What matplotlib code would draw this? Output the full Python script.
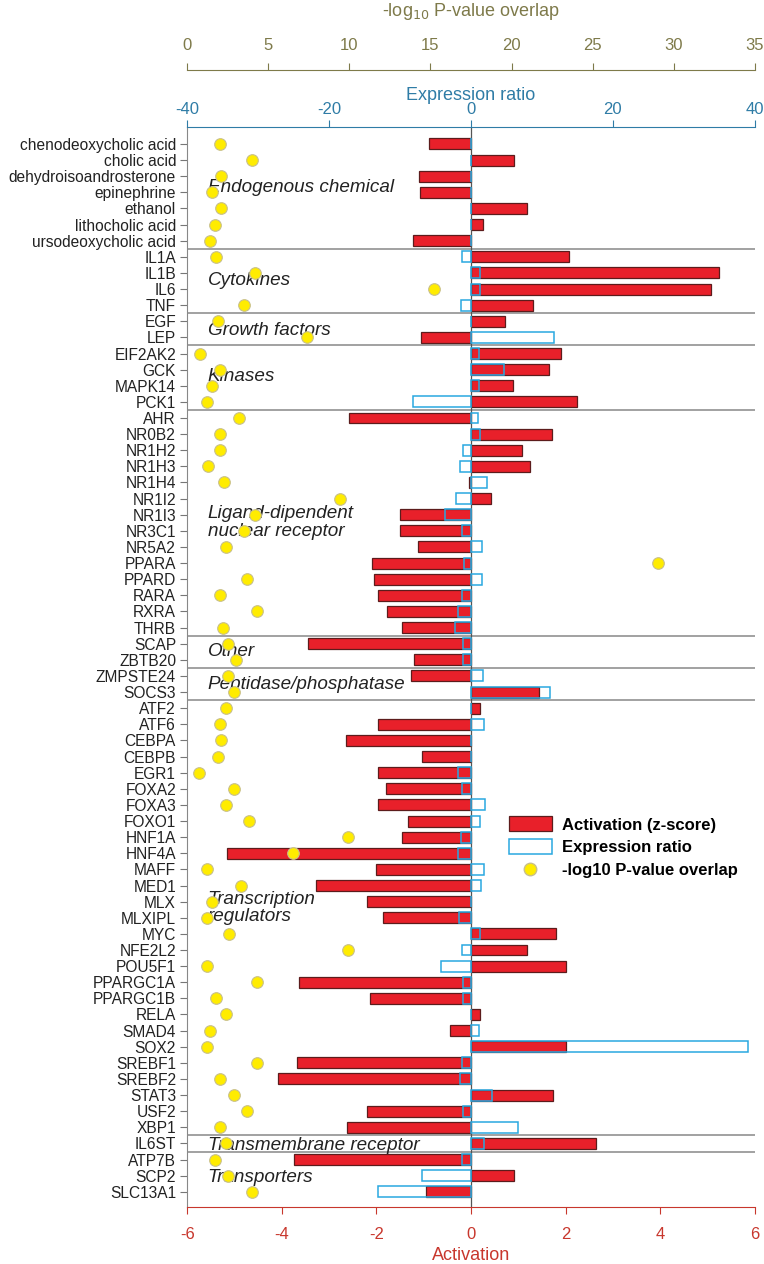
import matplotlib
matplotlib.use('Agg')
import matplotlib.pyplot as plt
import numpy as np
from matplotlib.patches import Patch
from matplotlib.lines import Line2D

plt.rcParams['font.family'] = ['Liberation Sans', 'DejaVu Sans']
plt.rcParams['axes.unicode_minus'] = False

# upstream regulators, top to bottom
regulators = ['chenodeoxycholic acid', 'cholic acid', 'dehydroisoandrosterone', 'epinephrine',
              'ethanol', 'lithocholic acid', 'ursodeoxycholic acid',
              'IL1A', 'IL1B', 'IL6', 'TNF',
              'EGF', 'LEP',
              'EIF2AK2', 'GCK', 'MAPK14', 'PCK1',
              'AHR', 'NR0B2', 'NR1H2', 'NR1H3', 'NR1H4', 'NR1I2', 'NR1I3', 'NR3C1', 'NR5A2',
              'PPARA', 'PPARD', 'RARA', 'RXRA', 'THRB',
              'SCAP', 'ZBTB20',
              'ZMPSTE24', 'SOCS3',
              'ATF2', 'ATF6', 'CEBPA', 'CEBPB', 'EGR1', 'FOXA2', 'FOXA3', 'FOXO1', 'HNF1A',
              'HNF4A', 'MAFF', 'MED1', 'MLX', 'MLXIPL', 'MYC', 'NFE2L2', 'POU5F1', 'PPARGC1A',
              'PPARGC1B', 'RELA', 'SMAD4', 'SOX2', 'SREBF1', 'SREBF2', 'STAT3', 'USF2', 'XBP1',
              'IL6ST',
              'ATP7B', 'SCP2', 'SLC13A1']

activation = [-0.89, 0.90, -1.10, -1.08, 1.18, 0.25, -1.23,
              2.07, 5.24, 5.07, 1.31,
              0.71, -1.05,
              1.90, 1.65, 0.88, 2.24,
              -2.58, 1.72, 1.07, 1.24, -0.05, 0.43, -1.50, -1.51, -1.12,
              -2.10, -2.05, -1.97, -1.77, -1.45,
              -3.45, -1.20,
              -1.27, 1.43,
              0.20, -1.97, -2.65, -1.04, -1.97, -1.80, -1.97, -1.33, -1.46,
              -5.16, -2.00, -3.28, -2.20, -1.87, 1.79, 1.19, 2.00, -3.63,
              -2.14, 0.18, -0.45, 2.00, -3.67, -4.09, 1.73, -2.19, -2.62,
              2.65,
              -3.74, 0.90, -0.96]

expr_ratio = [0, 0, 0, 0, 0, 0, 0,
              -1.2, 1.2, 1.3, -1.4,
              0, 11.7,
              1.1, 4.6, 1.1, -8.2,
              1.0, 1.2, -1.1, -1.5, 2.2, -2.1, -3.7, -1.3, 1.5,
              -1.0, 1.5, -1.2, -1.9, -2.2,
              -1.1, -1.1,
              1.7, 11.2,
              0, 1.9, 0, 0, -1.9, -1.2, 2.0, 1.2, -1.4,
              -1.9, 1.8, 1.4, 0, -1.7, 1.3, -1.2, -4.2, -1.1,
              -1.1, 0, 1.1, 39.0, -1.3, -1.6, 3.0, -1.1, 6.6,
              1.8,
              -1.3, -6.9, -13.1]

neg_log_p = [2.0, 4.0, 2.1, 1.5, 2.1, 1.7, 1.4,
             1.8, 4.2, 15.2, 3.5,
             1.9, 7.4,
             0.8, 2.0, 1.5, 1.2,
             3.2, 2.0, 2.0, 1.3, 2.3, 9.4, 4.2, 3.5, 2.4,
             29.0, 3.7, 2.0, 4.3, 2.2,
             2.5, 3.0,
             2.5, 2.9,
             2.4, 2.0, 2.1, 1.9, 0.7, 2.9, 2.4, 3.8, 9.9,
             6.5, 1.2, 3.3, 1.5, 1.2, 2.6, 9.9, 1.2, 4.3,
             1.8, 2.4, 1.4, 1.2, 4.3, 2.0, 2.9, 3.7, 2.0,
             2.4,
             1.7, 2.5, 4.0]

group_names = ['Endogenous chemical', 'Cytokines', 'Growth factors', 'Kinases',
               'Ligand-dipendent\nnuclear receptor', 'Other', 'Peptidase/phosphatase',
               'Transcription\nregulators', 'Transmembrane receptor', 'Transporters']
group_sizes = [7, 4, 2, 4, 14, 2, 2, 27, 1, 3]

red = '#E8202A'
red_edge = '#5C1C1C'
blue = '#29A8E0'
yellow = '#FFEC00'
olive = '#7E7A4A'
axis_blue = '#2F7CA6'
axis_red = '#C8372D'

y = np.arange(len(regulators))

fig = plt.figure(figsize=(7.64, 12.64), dpi=100)
ax = fig.add_axes([0.245, 0.045, 0.743, 0.8545])

# activation bars (bottom axis)
ax.barh(y, activation, height=0.68, color=red, edgecolor=red_edge, linewidth=0.9, zorder=2)
ax.set_xlim(-6, 6)
ax.set_ylim(len(regulators) - 0.05, -1.05)
ax.set_yticks(y)
ax.set_yticklabels(regulators, fontsize=11.2, color='#222222')
ax.set_xticks(np.arange(-6, 7, 2))
ax.tick_params(axis='x', colors=axis_red, labelsize=12, length=5, pad=9)
ax.tick_params(axis='y', colors='#777777', labelcolor='#222222', length=5, pad=3)
ax.set_xlabel('Activation', color=axis_red, fontsize=13, labelpad=4)
ax.spines['bottom'].set_color(axis_red)
ax.spines['left'].set_color('#888888')
ax.spines['right'].set_visible(False)
ax.spines['top'].set_visible(False)
ax.axvline(0, color='#555555', lw=0.9, zorder=5)

# group separators and labels
bounds = np.cumsum(group_sizes)
for b in bounds[:-1]:
    ax.axhline(b - 0.5, color='#888888', lw=1.1, zorder=1)
label_rows = [2.7, 8.5, 11.6, 14.4, 23.5, 31.5, 33.5, 47.4, 62.1, 64.1]
for name, row in zip(group_names, label_rows):
    ax.text(-5.57, row, name, fontsize=13.6, style='italic', color='#222222',
            va='center', ha='left', linespacing=1.05, zorder=6)

# expression ratio bars (first top axis)
ax2 = ax.twiny()
ax2.barh(y, expr_ratio, height=0.68, facecolor='none', edgecolor=blue, linewidth=1.1, zorder=3)
ax2.set_xlim(-40, 40)
ax2.set_xticks([-40, -20, 0, 20, 40])
ax2.tick_params(axis='x', colors=axis_blue, labelsize=12, length=5, pad=2)
ax2.set_xlabel('Expression ratio', color=axis_blue, fontsize=13, labelpad=2)
ax2.spines['top'].set_color(axis_blue)
for s in ['bottom', 'left', 'right']:
    ax2.spines[s].set_visible(False)

# -log10 p-value dots (outer top axis)
ax3 = ax.twiny()
ax3.scatter(neg_log_p, y, s=70, color=yellow, edgecolor='#C8C08A', linewidth=0.8, zorder=4)
ax3.set_xlim(0, 35)
ax3.set_xticks(np.arange(0, 36, 5))
ax3.spines['top'].set_position(('outward', 41))
ax3.spines['top'].set_color(olive)
for s in ['bottom', 'left', 'right']:
    ax3.spines[s].set_visible(False)
ax3.tick_params(axis='x', colors=olive, labelsize=12, length=5, pad=7)
ax3.set_xlabel('-log$_{10}$ P-value overlap', color=olive, fontsize=13, labelpad=16)

handles = [Patch(facecolor=red, edgecolor=red_edge, linewidth=0.9),
           Patch(facecolor='white', edgecolor=blue, linewidth=1.1),
           Line2D([], [], marker='o', color='none', markerfacecolor=yellow,
                  markeredgecolor='#C8C08A', markersize=9)]
ax3.legend(handles, ['Activation (z-score)', 'Expression ratio', '-log10 P-value overlap'],
           loc='upper left', bbox_to_anchor=(0.646, 0.366), bbox_transform=fig.transFigure,
           frameon=False, prop={'weight': 'bold', 'size': 12}, handlelength=2.6,
           handleheight=1.0, labelspacing=0.4, handletextpad=0.6)

plt.savefig('out.png', dpi=100)
